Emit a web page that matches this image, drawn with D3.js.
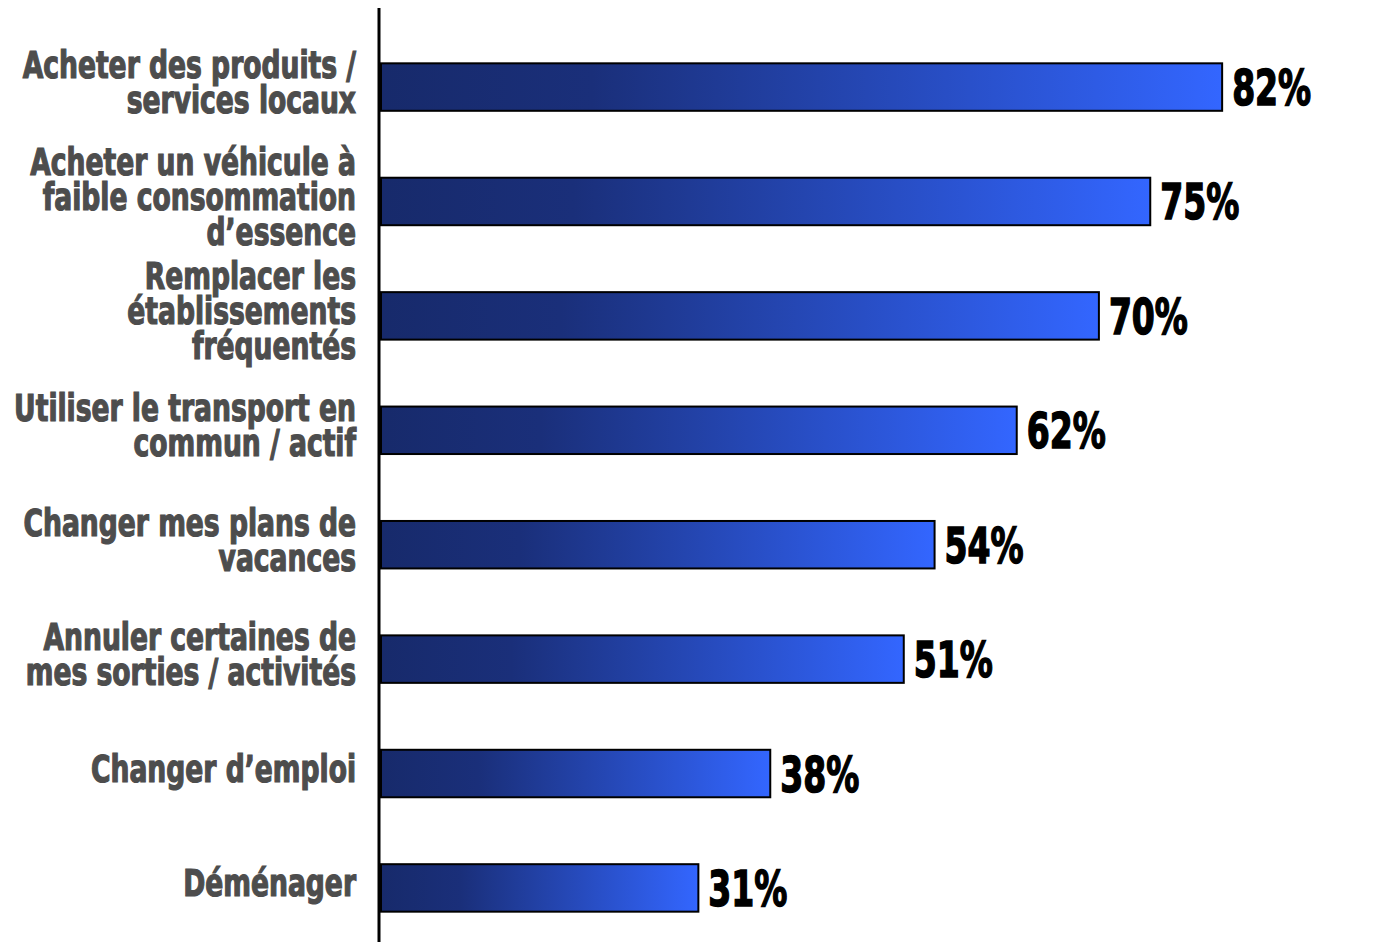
<!DOCTYPE html>
<html><head><meta charset="utf-8">
<script src="https://cdn.jsdelivr.net/npm/d3@7"></script>
<style>
html,body{margin:0;padding:0;background:#fff;}
svg{display:block;}
</style></head>
<body>
<svg id="chart" width="1387" height="942"></svg>
<script>
const categories = [
  ["Acheter des produits /", "services locaux"],
  ["Acheter un véhicule à", "faible consommation", "d’essence"],
  ["Remplacer les", "établissements", "fréquentés"],
  ["Utiliser le transport en", "commun / actif"],
  ["Changer mes plans de", "vacances"],
  ["Annuler certaines de", "mes sorties / activités"],
  ["Changer d’emploi"],
  ["Déménager"]
];
const values = [82, 75, 70, 62, 54, 51, 38, 31];
const valueLabels = ["82%", "75%", "70%", "62%", "54%", "51%", "38%", "31%"];

const svg = d3.select("#chart");
const FONT = "'Liberation Sans Narrow','DejaVu Sans Condensed','DejaVu Sans',sans-serif";
const axisX = 380;
const x = d3.scaleLinear().domain([0, 100]).range([axisX, axisX + 1027]);
const y = d3.scaleBand().domain(d3.range(values.length)).range([29, 946]).paddingInner(0.585).paddingOuter(0.3);

const defs = svg.append("defs");
const grad = defs.append("linearGradient").attr("id", "barGrad")
  .attr("x1", "0%").attr("x2", "100%").attr("y1", "0%").attr("y2", "0%");
grad.append("stop").attr("offset", "0%").attr("stop-color", "#172a6b");
grad.append("stop").attr("offset", "25%").attr("stop-color", "#1a2f7a");
grad.append("stop").attr("offset", "100%").attr("stop-color", "#3366ff");

// axis line
svg.append("line").attr("x1", axisX - 1).attr("x2", axisX - 1).attr("y1", 8).attr("y2", 942)
  .attr("stroke", "#000").attr("stroke-width", 3);

// bars
svg.selectAll("rect.bar").data(values).enter().append("rect")
  .attr("class", "bar")
  .attr("x", x(0) + 1)
  .attr("y", (d, i) => y(i))
  .attr("width", d => x(d) - x(0) - 1)
  .attr("height", y.bandwidth())
  .attr("fill", "url(#barGrad)")
  .attr("stroke", "#000").attr("stroke-width", 2);

// value labels (horizontally condensed)
const valG = svg.selectAll("g.val").data(values).enter().append("g")
  .attr("class", "val");
const valText = valG.append("text")
  .attr("dy", "0.36em")
  .attr("font-family", FONT).attr("font-weight", "bold").attr("font-size", 50)
  .attr("fill", "#000").attr("stroke", "#000").attr("stroke-width", 1.5)
  .text((d, i) => valueLabels[i]);
// condense so that "82%" is ~79px wide
const refW = valText.nodes()[0].getComputedTextLength();
const vsx = Math.min(1, 79 / refW);
valG.attr("transform", (d, i) => `translate(${x(d) + 10},${y(i) + y.bandwidth() / 2}) scale(${vsx},1)`);

// category labels
const lineH = 35;
const catG = svg.selectAll("g.cat").data(categories).enter().append("g").attr("class", "cat");
const cat = catG.append("text")
  .attr("text-anchor", "end")
  .attr("font-family", FONT).attr("font-weight", "bold").attr("font-size", 37)
  .attr("fill", "#4d4d4d").attr("stroke", "#4d4d4d").attr("stroke-width", 1.2);
cat.each(function(lines) {
  const t = d3.select(this);
  const n = lines.length;
  lines.forEach((ln, k) => {
    t.append("tspan").attr("x", 0)
      .attr("y", (k - (n - 1) / 2) * lineH)
      .attr("dy", "0.36em")
      .text(ln);
  });
});
let maxW = 0;
svg.selectAll("g.cat tspan").each(function() { maxW = Math.max(maxW, this.getComputedTextLength()); });
const csx = Math.min(1, 342 / maxW);
catG.attr("transform", (d, i) => `translate(356,${y(i) + y.bandwidth() / 2 - 5}) scale(${csx},1)`);
</script>
</body></html>
